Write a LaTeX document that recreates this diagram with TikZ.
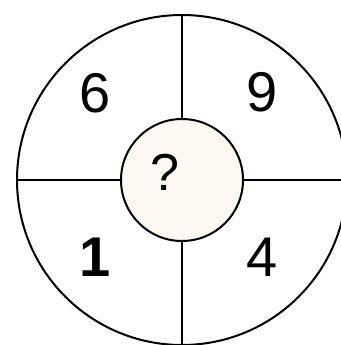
\documentclass[tikz,border=0pt]{standalone}
\usepackage{fontspec}
\setmainfont{Liberation Sans}
\definecolor{cream}{HTML}{FEF8F2}
\begin{document}
\begin{tikzpicture}[x=1pt,y=-1pt,
  ring/.style={draw=black,line width=2pt},
  spoke/.style={draw=black,line width=2pt},
  num/.style={inner sep=0pt,font=\fontsize{56}{56}\selectfont}]
\useasboundingbox (0,0) rectangle (340,345);
\coordinate (c) at (182,180);
\draw[ring] (c) circle[radius=165];
\node[ring,fill=cream,circle,minimum size=122pt,inner sep=0pt] (mid) at (c) {};
\coordinate (top) at (182,15);
\coordinate (bot) at (182,346);
\coordinate (lft) at (17,180);
\coordinate (rgt) at (341,180);
\draw[spoke] (top) -- (mid.north);
\draw[spoke] (mid.south) -- (bot);
\draw[spoke] (lft) -- (mid.west);
\draw[spoke] (mid.east) -- (rgt);
\node[num] (n6) at (95,93) {6};
\node[num] (n9) at (262,92) {9};
\node[num,font=\fontsize{56}{56}\selectfont\bfseries] (n1) at (95,257) {1};
\node[num] (n4) at (262,257) {4};
\node[num,font=\fontsize{52}{52}\selectfont] (q) at (165,172) {?};
\end{tikzpicture}
\end{document}
